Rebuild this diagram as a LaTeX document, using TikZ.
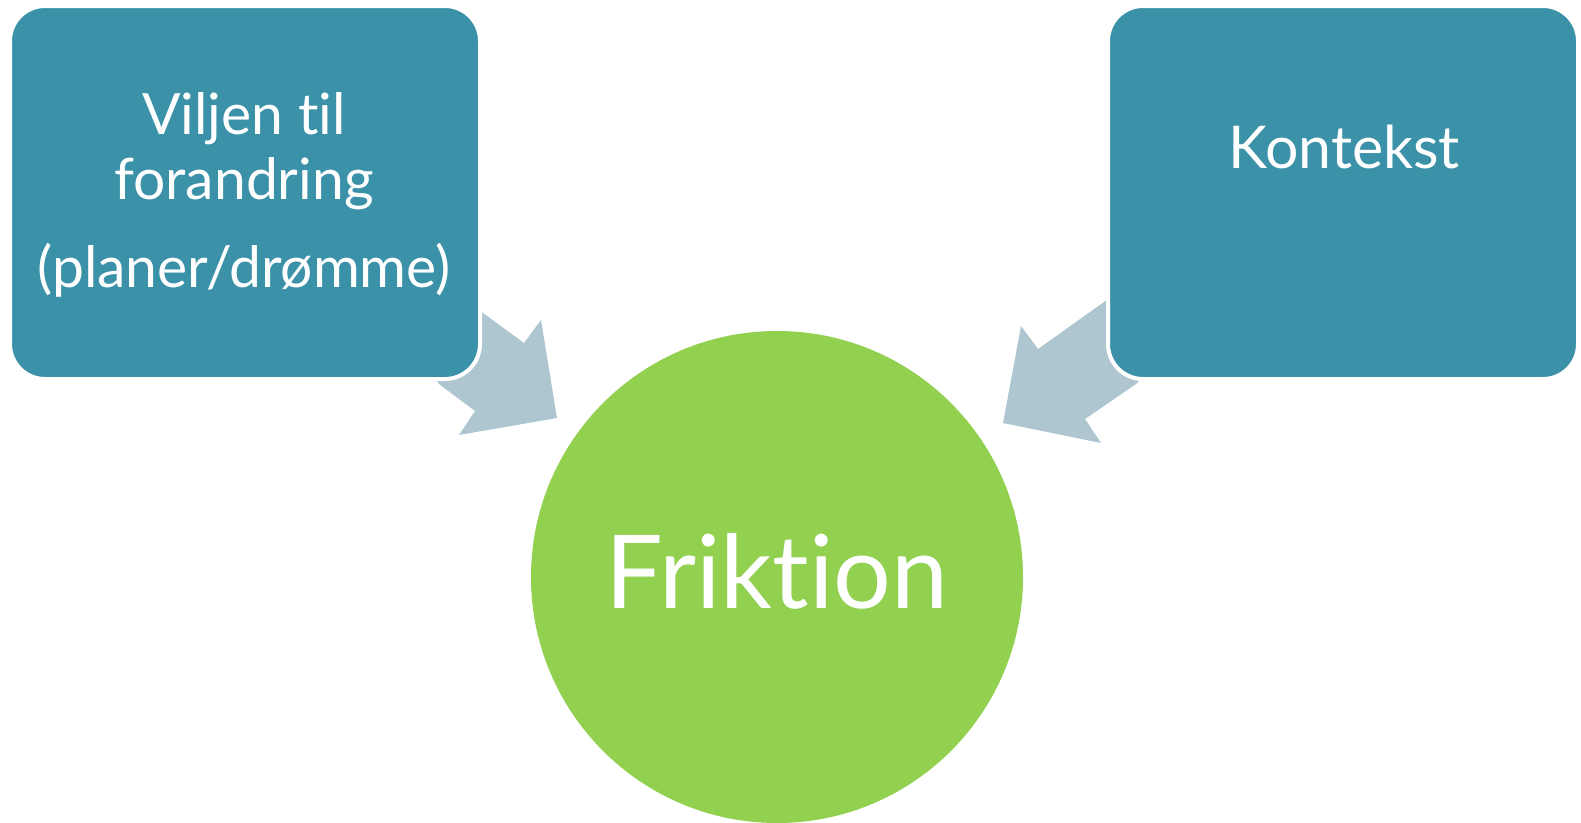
\documentclass[tikz,border=0pt]{standalone}
\usepackage{fontspec}
\setmainfont{Lato}[Ligatures={NoCommon,NoRare}]
\definecolor{boxblue}{HTML}{3A91A8}
\definecolor{arrowgray}{HTML}{AEC6D0}
\definecolor{circgreen}{HTML}{92D050}
\begin{document}
\begin{tikzpicture}[x=1pt,y=-1pt,
  box/.style={rectangle, rounded corners=35pt, fill=boxblue, draw=white, line width=4pt, minimum width=470pt, minimum height=373pt, inner sep=0pt},
  txt/.style={text=white, anchor=base, inner sep=0pt},
  arr/.style={fill=arrowgray, draw=none}]
\useasboundingbox (0,0) rectangle (1581,822);
% arrows (drawn under boxes)
\fill[arr] (483,313) -- (524,343) -- (541,320) -- (557,418) -- (459,435) -- (475,411) -- (439,384) -- (420,360) -- (460,300) -- cycle;
\fill[arr] (1104,302) -- (1038,349) -- (1021,326) -- (1003,423) -- (1101,443) -- (1085,419) -- (1136,384) -- (1160,360) -- (1120,290) -- cycle;
% boxes
\node[box] (left) at (245,192.5) {};
\node[box] (right) at (1343,192.5) {};
% circle
\node[circle, fill=circgreen, minimum size=492pt, inner sep=0pt] (fr) at (777,577) {};
% texts
\node[txt, font=\fontsize{57}{60}\selectfont] (l1) at (244,134) {Viljen til};
\node[txt, font=\fontsize{57}{60}\selectfont] (l2) at (244,199) {forandring};
\node[txt, font=\fontsize{57}{60}\selectfont] (l3) at (244,287) {(planer/drømme)};
\node[txt, font=\fontsize{59}{62}\selectfont] (k) at (1344,168) {Kontekst};
\node[txt, font=\fontsize{102}{110}\selectfont] (f) at (777,608) {Friktion};
\end{tikzpicture}
\end{document}
